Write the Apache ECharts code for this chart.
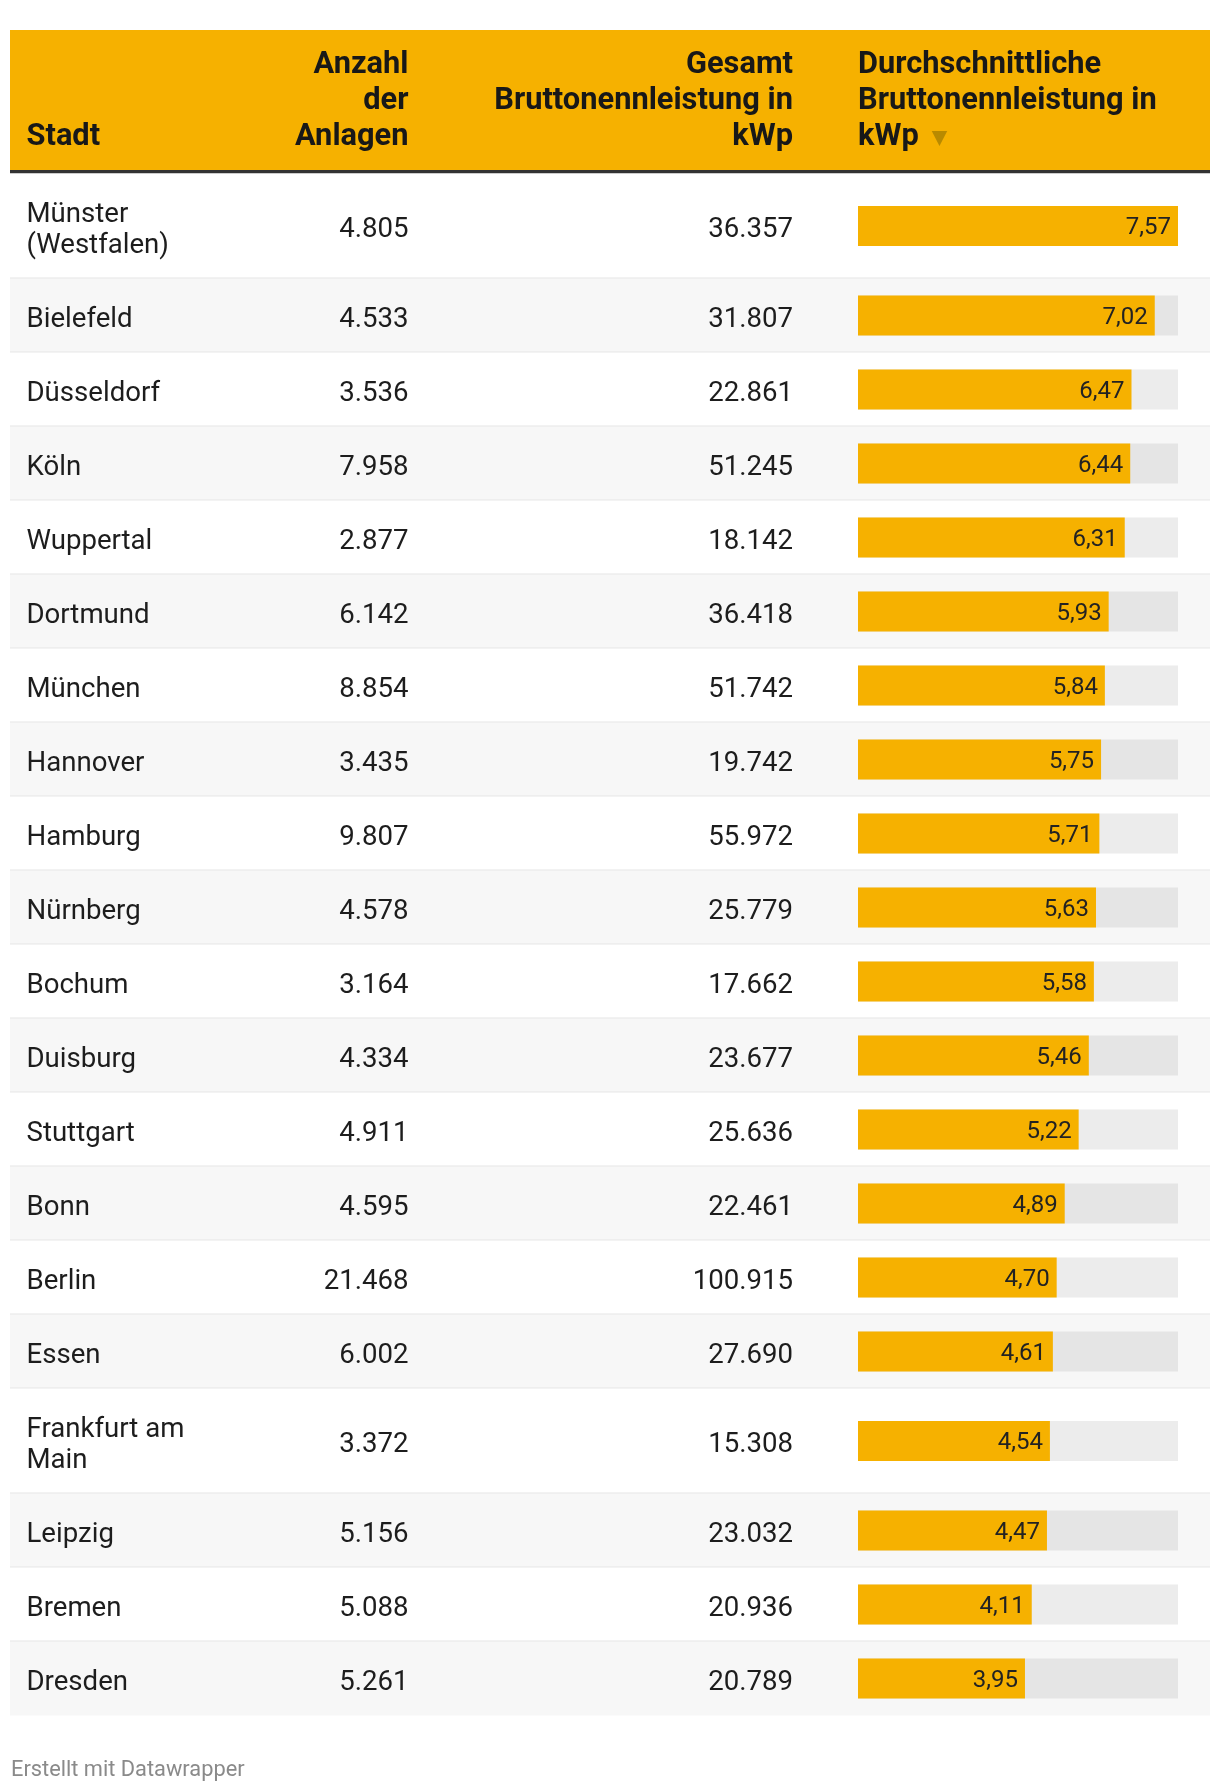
<!DOCTYPE html>
<html><head><meta charset="utf-8">
<script src="https://cdn.jsdelivr.net/npm/echarts@6/dist/echarts.min.js"></script>
<style>html,body{margin:0;padding:0;background:#fff}#c{width:1220px;height:1792px}</style>
</head><body><div id="c"></div>
<script>
const cities = ['Münster (Westfalen)','Bielefeld','Düsseldorf','Köln','Wuppertal','Dortmund','München','Hannover','Hamburg','Nürnberg','Bochum','Duisburg','Stuttgart','Bonn','Berlin','Essen','Frankfurt am Main','Leipzig','Bremen','Dresden'];
const anlagen = [4805,4533,3536,7958,2877,6142,8854,3435,9807,4578,3164,4334,4911,4595,21468,6002,3372,5156,5088,5261];
const gesamt = [36357,31807,22861,51245,18142,36418,51742,19742,55972,25779,17662,23677,25636,22461,100915,27690,15308,23032,20936,20789];
const avgLeistung = [7.57,7.02,6.47,6.44,6.31,5.93,5.84,5.75,5.71,5.63,5.58,5.46,5.22,4.89,4.70,4.61,4.54,4.47,4.11,3.95];
const headers = ['Stadt','Anzahl\nder\nAnlagen','Gesamt\nBruttonennleistung in\nkWp','Durchschnittliche\nBruttonennleistung in\nkWp'];
const footer = 'Erstellt mit Datawrapper';

const FONT = 'Roboto, "Noto Sans", sans-serif';
const BODY_FS = 27.6, HEAD_FS = 30.8, LABEL_FS = 24, FOOT_FS = 21.8;
const ROW_BASE = 74, LINE_H = 31, BAR_H = 40;
const TEXT_DY = 4.2, LABEL_DY = 2;
const TABLE_L = 10, TABLE_R = 1210, HEAD_TOP = 30, HEAD_BOTTOM = 170, BODY_TOP = 173.5;
const COL_CITY_X = 26.5, COL_ANZ_R = 408.5, COL_GES_R = 793, BAR_L = 858, BAR_R = 1178;
const ORANGE = '#f6b100', TEXT = '#1d1d1d';

const cv = document.createElement('canvas').getContext('2d');
function measure(t, font){ cv.font = font; return cv.measureText(t).width; }
function wrap(text, font, maxW){
  const words = text.split(' '); const lines = []; let cur = '';
  words.forEach(w => {
    const t = cur ? cur + ' ' + w : w;
    if (cur && measure(t, font) > maxW) { lines.push(cur); cur = w; } else cur = t;
  });
  if (cur) lines.push(cur);
  return lines;
}
const bodyFont = BODY_FS + 'px ' + FONT;
const cityLines = cities.map(c => wrap(c, bodyFont, 200));
const rowH = cityLines.map(l => ROW_BASE + LINE_H * (l.length - 1));
const rowTop = []; let acc = 0; rowH.forEach(h => { rowTop.push(acc); acc += h; });
const totalH = acc;
const rowMid = rowTop.map((t, i) => t + rowH[i] / 2);
const maxAvg = Math.max(...avgLeistung);
const n = cities.length;

function fmtInt(v){ return String(v).replace(/\B(?=(\d{3})+(?!\d))/g, '.'); }
function fmtDec(v){ return v.toFixed(2).replace('.', ','); }

function txt(x, y, text, opts){
  return {type:'text', x:x, y:y, style: Object.assign({text:text, fill:TEXT, fontSize:BODY_FS, fontFamily:FONT, align:'left', verticalAlign:'middle'}, opts||{})};
}

const chart = echarts.init(document.getElementById('c'), null, {renderer:'canvas'});
const headBottomY = HEAD_BOTTOM - 14.5;
const kwpW = measure('kWp', 'bold ' + HEAD_FS + 'px ' + FONT);
const triX = BAR_L + kwpW + 13;

chart.setOption({
  animation:false,
  backgroundColor:'#fff',
  grid:{left:BAR_L, width:BAR_R - BAR_L, top:BODY_TOP, height:totalH},
  xAxis:{type:'value', min:0, max:maxAvg, show:false},
  yAxis:{type:'value', min:0, max:totalH, inverse:true, show:false},
  series:[{
    type:'custom', clip:false,
    data: avgLeistung.map((v, i) => [v, rowMid[i], rowTop[i], rowTop[i] + rowH[i]]),
    encode:{x:0, y:1},
    renderItem: function(params, api){
      const i = params.dataIndex;
      const v = api.value(0);
      const yMid = api.coord([0, api.value(1)])[1];
      const yTop = api.coord([0, api.value(2)])[1];
      const yBot = api.coord([0, api.value(3)])[1];
      const x0 = api.coord([0, 0])[0];
      const xv = api.coord([v, 0])[0];
      const xm = api.coord([maxAvg, 0])[0];
      const odd = i % 2 === 1;
      const ch = [];
      ch.push({type:'rect', shape:{x:TABLE_L, y:yTop, width:TABLE_R - TABLE_L, height:yBot - yTop}, style:{fill: odd ? '#f7f7f7' : '#ffffff'}});
      if (i < n - 1) ch.push({type:'line', shape:{x1:TABLE_L, y1:yBot, x2:TABLE_R, y2:yBot}, style:{stroke:'#e6e6e6', lineWidth:2}});
      ch.push({type:'rect', shape:{x:x0, y:yMid - BAR_H/2, width:xm - x0, height:BAR_H}, style:{fill: odd ? '#e5e5e5' : '#ececec'}});
      ch.push({type:'rect', shape:{x:x0, y:yMid - BAR_H/2, width:xv - x0, height:BAR_H}, style:{fill: ORANGE}});
      ch.push(txt(xv - 7, yMid + LABEL_DY, fmtDec(v), {align:'right', fontSize:LABEL_FS, fill:'#222'}));
      ch.push(txt(COL_CITY_X, yMid + TEXT_DY, cityLines[i].join('\n'), {lineHeight:LINE_H}));
      ch.push(txt(COL_ANZ_R, yMid + TEXT_DY, fmtInt(anlagen[i]), {align:'right'}));
      ch.push(txt(COL_GES_R, yMid + TEXT_DY, fmtInt(gesamt[i]), {align:'right'}));
      return {type:'group', children:ch};
    }
  }],
  graphic:[
    {type:'rect', shape:{x:TABLE_L, y:HEAD_TOP, width:TABLE_R - TABLE_L, height:HEAD_BOTTOM - HEAD_TOP}, style:{fill:ORANGE}},
    {type:'rect', shape:{x:TABLE_L, y:HEAD_BOTTOM, width:TABLE_R - TABLE_L, height:BODY_TOP - HEAD_BOTTOM}, style:{fill:'#333333'}},
    {type:'text', x:COL_CITY_X, y:headBottomY, style:{text:headers[0], fill:'#181818', fontSize:HEAD_FS, fontWeight:'bold', fontFamily:FONT, lineHeight:36, align:'left', verticalAlign:'bottom'}},
    {type:'text', x:COL_ANZ_R, y:headBottomY, style:{text:headers[1], fill:'#181818', fontSize:HEAD_FS, fontWeight:'bold', fontFamily:FONT, lineHeight:36, align:'right', verticalAlign:'bottom'}},
    {type:'text', x:COL_GES_R, y:headBottomY, style:{text:headers[2], fill:'#181818', fontSize:HEAD_FS, fontWeight:'bold', fontFamily:FONT, lineHeight:36, align:'right', verticalAlign:'bottom'}},
    {type:'text', x:BAR_L, y:headBottomY, style:{text:headers[3], fill:'#181818', fontSize:HEAD_FS, fontWeight:'bold', fontFamily:FONT, lineHeight:36, align:'left', verticalAlign:'bottom'}},
    {type:'polygon', shape:{points:[[triX, 131],[triX + 15.5, 131],[triX + 7.75, 146]]}, style:{fill:'#b88a00'}},
    {type:'text', x:11, y:1770.5, style:{text:footer, fill:'#8a8a8a', fontSize:FOOT_FS, fontFamily:FONT, align:'left', verticalAlign:'middle'}}
  ]
});
</script></body></html>
